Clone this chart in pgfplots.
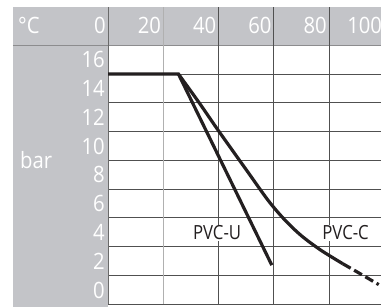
\documentclass[border=0pt]{standalone}
\usepackage{pgfplots}
\pgfplotsset{compat=1.18}
\usepackage{fontspec}
\setmainfont{Open Sans}
\newfontfamily\tickfont{Open Sans}[FakeStretch=0.9]
\newfontfamily\lblfont{Open Sans}[FakeStretch=0.86]
\definecolor{band}{RGB}{195,196,200}
\definecolor{sep}{RGB}{140,140,142}
\definecolor{gridcol}{RGB}{80,80,80}
\definecolor{ink}{RGB}{35,31,32}
\begin{document}
\begin{tikzpicture}
\begin{axis}[
  set layers,
  x=2.7625bp, y=14.375bp,
  xmin=0, xmax=100, ymin=0, ymax=18,
  clip=false,
  axis line style={draw=none},
  xtick={0,20,...,100}, ytick={0,2,...,16},
  xticklabel pos=upper,
  major tick length=0pt,
  ymajorgrids,
  grid style={gridcol, line width=0.7bp},
  tick label style={font=\tickfont\fontsize{22.5bp}{24bp}\selectfont, text=white, inner sep=0pt},
  xticklabel style={anchor=base east, xshift=-2bp, yshift=12bp},
  yticklabel style={anchor=base east, xshift=-3bp, yshift=6bp},
  /pgf/number format/assume math mode=true,
]
\pgfonlayer{axis background}
  \fill[band] ([xshift=-95bp]axis cs:0,18) rectangle ([yshift=38.25bp]axis cs:100,18);
  \fill[band] ([xshift=-95bp,yshift=-3bp]axis cs:0,0) rectangle (axis cs:0,18);
  \fill[white] (axis cs:0,0) rectangle (axis cs:100,18);
\endpgfonlayer
\pgfonlayer{axis grid}
  \draw[sep, line width=1.3bp] ([xshift=-95bp]axis cs:0,18) -- (axis cs:100,18);
  \draw[gridcol!45, line width=0.9bp] (axis cs:20,0) -- ([yshift=38.25bp]axis cs:20,18);
  \pgfplotsinvokeforeach{40,60,80,100}{
    \draw[gridcol, line width=0.7bp] (axis cs:#1,0) -- ([yshift=38.25bp]axis cs:#1,18);
  }
  \draw[gridcol!85, line width=0.9bp] ([yshift=-0.5bp]axis cs:0,0) -- ([yshift=38.25bp]axis cs:0,18);
\endpgfonlayer
\coordinate (O) at (axis cs:0,0);
\node[anchor=base west, text=white, font=\tickfont\fontsize{22.5bp}{24bp}\selectfont, inner sep=0pt]
  at ([xshift=-90bp,yshift=12bp]axis cs:0,18) {°C};
\node[anchor=base west, text=white, font=\tickfont\fontsize{22.5bp}{24bp}\selectfont, inner sep=0pt]
  at ([xshift=-88bp]axis cs:0,9.46) {bar};

\addplot[ink, line width=3.2bp, line join=miter] coordinates {(0,16) (25.5,16) (59.3,2.7)};
\addplot[ink, line width=3.2bp, smooth] coordinates {
  (25.5,16) (33,14.0) (40,12.05) (50,9.35) (58,7.2) (64,5.85) (70,4.75) (77,3.75) (85,2.8)};
\addplot[ink, line width=3.2bp, smooth, dash pattern=on 9bp off 4bp] coordinates {
  (85,2.8) (90,2.25) (98,1.35)};

\node[fill=white, inner sep=1bp, text=ink, font=\lblfont\fontsize{19.5bp}{21bp}\selectfont] at (axis cs:39.5,4.95) {PVC-U};
\node[fill=white, inner sep=1bp, text=ink, font=\lblfont\fontsize{19.5bp}{21bp}\selectfont] at (axis cs:86,4.95) {PVC-C};
\end{axis}
\pgfresetboundingbox
\path ([xshift=-108bp,yshift=-3bp]O) rectangle ([xshift=273bp,yshift=304bp]O);
\end{tikzpicture}
\end{document}
